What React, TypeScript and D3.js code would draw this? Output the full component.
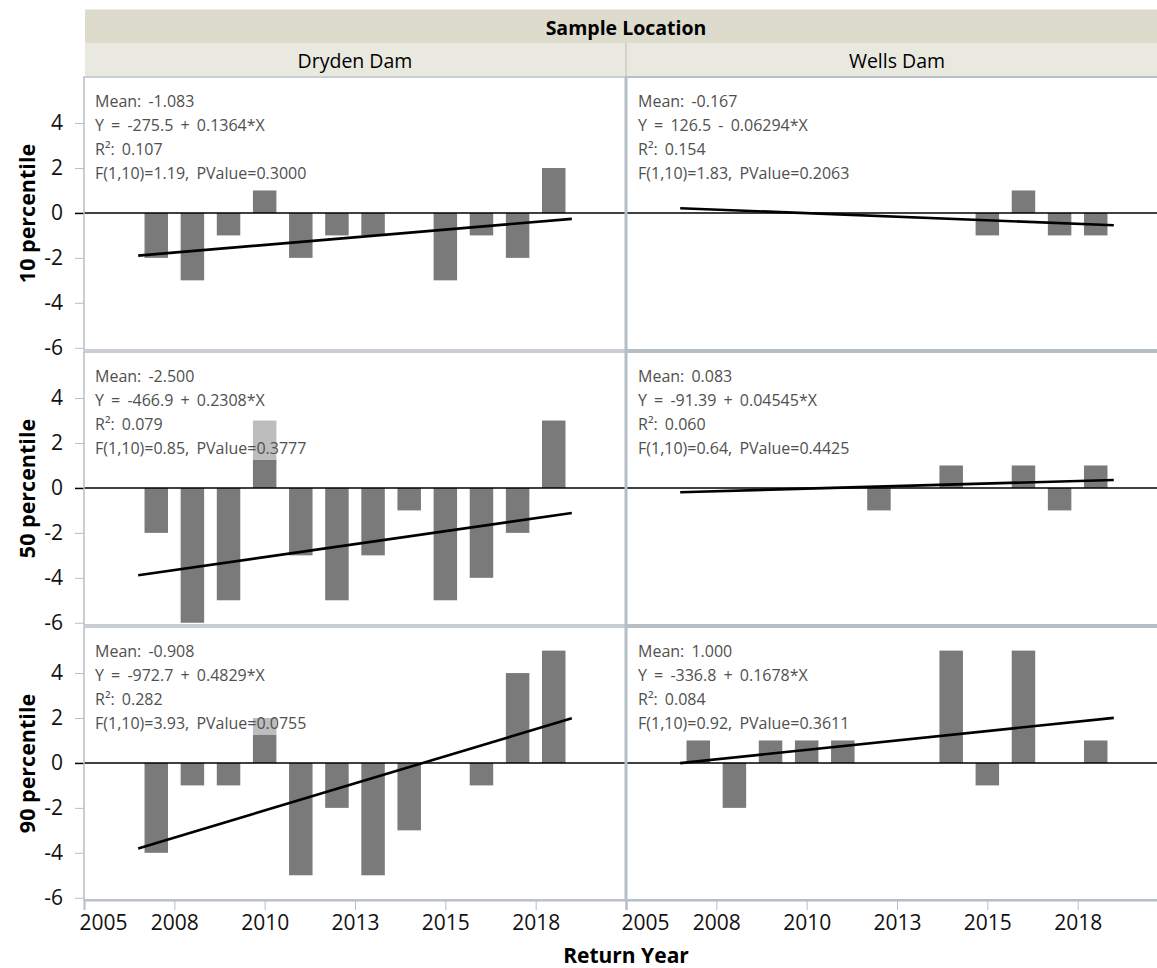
import * as d3 from 'd3';
import React from 'react';

// Return years (one bar per year, both locations)
const years = [2007, 2008, 2009, 2010, 2011, 2012, 2013, 2014, 2015, 2016, 2017, 2018];

const locations = ['Dryden Dam', 'Wells Dam'];
const percentiles = ['10 percentile', '50 percentile', '90 percentile'];

// Bar values, one array per panel
const dryden10 = [-2, -3, -1, 1, -2, -1, -1, 0, -3, -1, -2, 2];
const dryden50 = [-2, -6, -5, 3, -3, -5, -3, -1, -5, -4, -2, 3];
const dryden90 = [-4, -1, -1, 2, -5, -2, -5, -3, 0, -1, 4, 5];
const wells10 = [0, 0, 0, 0, 0, 0, 0, 0, -1, 1, -1, -1];
const wells50 = [0, 0, 0, 0, 0, -1, 0, 1, 0, 1, -1, 1];
const wells90 = [1, -2, 1, 1, 1, 0, 0, 5, -1, 5, 0, 1];

// Fit statistics printed in each panel (row-major: 10/50/90, then Dryden/Wells)
const means = ['-1.083', '-0.167', '-2.500', '0.083', '-0.908', '1.000'];
const intercepts = ['-275.5', '126.5', '-466.9', '-91.39', '-972.7', '-336.8'];
const slopes = [0.1364, -0.06294, 0.2308, 0.04545, 0.4829, 0.1678];
const slopeText = ['+ 0.1364', '- 0.06294', '+ 0.2308', '+ 0.04545', '+ 0.4829', '+ 0.1678'];
const rSquared = ['0.107', '0.154', '0.079', '0.060', '0.282', '0.084'];
const fStats = ['1.19', '1.83', '0.85', '0.64', '3.93', '0.92'];
const pValues = ['0.3000', '0.2063', '0.3777', '0.4425', '0.0755', '0.3611'];

const xTickValues = [2005, 2007.5, 2010, 2012.5, 2015, 2017.5];
const xTickLabels = ['2005', '2008', '2010', '2013', '2015', '2018'];
const yTickValues = [-6, -4, -2, 0, 2, 4];

const panelValues = [dryden10, wells10, dryden50, wells50, dryden90, wells90];

const FONT = "'Segoe UI', 'Open Sans', 'Noto Sans', sans-serif";

const App = (): React.ReactElement => {
    const width = 1157;
    const height = 968;
    const chartRef = React.useRef<SVGSVGElement>(null);

    React.useEffect(() => {
        const left = 84;
        const panelW = 542;
        const top = 77;
        const rowStep = 275;
        const rowH = 273;
        const grid = '#b6bec6';

        const svg = d3.select(chartRef.current).attr('width', width).attr('height', height);
        svg.selectAll('*').remove();
        svg.style('font-family', FONT);

        const xScale = d3.scaleLinear().domain([2005, 2020]).range([0, panelW]);
        const yScale = d3.scaleLinear().domain([-6.1, 6.05]).range([rowH, 0]);
        const barW = xScale(2005.65) - xScale(2005);
        const midYear = d3.mean(years) as number;

        // Header bands.
        svg.append('rect').attr('x', left + 1).attr('y', 9.5).attr('width', width - left).attr('height', 33.5).attr('fill', '#dcdbcc');
        svg.append('text')
            .attr('x', left + panelW)
            .attr('y', 27)
            .attr('text-anchor', 'middle')
            .attr('dominant-baseline', 'central')
            .attr('font-size', 19.5)
            .attr('font-weight', 'bold')
            .text('Sample Location');
        locations.forEach((loc, c) => {
            const x0 = left + c * panelW;
            svg.append('rect').attr('x', x0 + 1).attr('y', 43).attr('width', panelW - 2).attr('height', 33).attr('fill', '#eae9e0');
            svg.append('text')
                .attr('x', x0 + panelW / 2)
                .attr('y', 60)
                .attr('text-anchor', 'middle')
                .attr('dominant-baseline', 'central')
                .attr('font-size', 19.5)
                .text(loc);
        });
        svg.append('line').attr('x1', left + panelW).attr('x2', left + panelW).attr('y1', 43).attr('y2', 77).attr('stroke', '#d3d2c6').attr('stroke-width', 2);

        percentiles.forEach((pct, r) => {
            const y0 = top + r * rowStep;

            // Row title.
            svg.append('text')
                .attr('transform', `translate(26, ${y0 + rowH / 2}) rotate(-90)`)
                .attr('text-anchor', 'middle')
                .attr('dominant-baseline', 'central')
                .attr('font-size', 21.5)
                .attr('font-weight', 'bold')
                .text(pct);

            // Y axis.
            const yAxis = d3.axisLeft(yScale).tickValues(yTickValues).tickSize(9).tickPadding(12).tickFormat((d) => String(d));
            const ga = svg.append('g').attr('transform', `translate(${left}, ${y0})`).call(yAxis);
            ga.select('.domain').remove();
            ga.selectAll('.tick line').attr('stroke', (d) => (d === 0 ? '#000' : grid)).attr('stroke-width', (d) => (d === 0 ? 1.5 : 1));
            ga.selectAll('.tick text').attr('font-size', 21).attr('font-family', FONT).attr('fill', '#111');

            locations.forEach((_, c) => {
                const idx = r * 2 + c;
                const x0 = left + c * panelW;
                const g = svg.append('g').attr('transform', `translate(${x0}, ${y0})`);
                const values = panelValues[idx];

                g.append('rect').attr('width', panelW).attr('height', rowH).attr('fill', '#fff');

                // Bars.
                g.selectAll('rect.bar')
                    .data(values.map((v, i) => ({ year: years[i], v })).filter((d) => d.v !== 0))
                    .enter()
                    .append('rect')
                    .attr('class', 'bar')
                    .attr('x', (d) => xScale(d.year) - barW / 2)
                    .attr('y', (d) => yScale(Math.max(0, d.v)))
                    .attr('width', barW)
                    .attr('height', (d) => Math.abs(yScale(d.v) - yScale(0)))
                    .attr('fill', '#7a7a7a');

                // Zero reference.
                g.append('line').attr('x1', 0).attr('x2', panelW).attr('y1', yScale(0)).attr('y2', yScale(0)).attr('stroke', '#000').attr('stroke-width', 1.5);

                // Fit line.
                const mean = parseFloat(means[idx]);
                const fit = (x: number) => mean + slopes[idx] * (x - midYear);
                const x1 = (d3.min(years) as number) - 0.5;
                const x2 = (d3.max(years) as number) + 0.5;
                g.append('line')
                    .attr('x1', xScale(x1))
                    .attr('y1', yScale(fit(x1)))
                    .attr('x2', xScale(x2))
                    .attr('y2', yScale(fit(x2)))
                    .attr('stroke', '#000')
                    .attr('stroke-width', 2.6);

                // Stats box.
                g.append('rect').attr('x', 6).attr('y', 6).attr('width', 262).attr('height', 102).attr('fill', '#fff').attr('opacity', 0.5);
                const lines = [
                    `Mean: ${means[idx]}`,
                    `Y = ${intercepts[idx]} ${slopeText[idx]}*X`,
                    `R²: ${rSquared[idx]}`,
                    `F(1,10)=${fStats[idx]}, PValue=${pValues[idx]}`,
                ];
                g.selectAll('text.stat')
                    .data(lines)
                    .enter()
                    .append('text')
                    .attr('class', 'stat')
                    .attr('x', c === 0 ? 11 : 12)
                    .attr('y', (_, i) => 24 + i * 24)
                    .attr('dominant-baseline', 'central')
                    .attr('font-size', 16)
                    .attr('word-spacing', 3)
                    .attr('fill', '#505050')
                    .text((d) => d);

                // Frame.
                g.append('rect').attr('width', panelW).attr('height', rowH).attr('fill', 'none').attr('stroke', grid).attr('stroke-width', c === 1 ? 2 : 1.5);
            });
        });

        // Panel divider.
        svg.append('line').attr('x1', left + panelW).attr('x2', left + panelW).attr('y1', top).attr('y2', top + 2 * rowStep + rowH).attr('stroke', grid).attr('stroke-width', 3);

        // X axes.
        const bottom = top + 2 * rowStep + rowH;
        locations.forEach((_, c) => {
            const xAxis = d3
                .axisBottom(xScale)
                .tickValues(xTickValues)
                .tickSize(10)
                .tickPadding(5)
                .tickFormat((_d, i) => xTickLabels[i]);
            const gx = svg.append('g').attr('transform', `translate(${left + c * panelW}, ${bottom})`).call(xAxis);
            gx.select('.domain').attr('stroke', grid).attr('stroke-width', 2);
            gx.selectAll('.tick line').attr('stroke', grid);
            gx.selectAll('.tick text')
                .attr('font-size', 21)
                .attr('font-family', FONT)
                .attr('fill', '#111')
                .attr('text-anchor', (_d, i) => (i === 0 ? 'start' : 'middle'))
                .attr('dx', (_d, i) => (i === 0 ? -5 : 0));
        });

        svg.append('text')
            .attr('x', left + panelW)
            .attr('y', 955)
            .attr('text-anchor', 'middle')
            .attr('dominant-baseline', 'central')
            .attr('font-size', 21)
            .attr('font-weight', 'bold')
            .text('Return Year');
    }, []);

    return (
        <div>
            <svg ref={chartRef} style={{ position: 'absolute', left: 0, top: 0, background: '#fff' }}></svg>
        </div>
    );
};

export default App;
